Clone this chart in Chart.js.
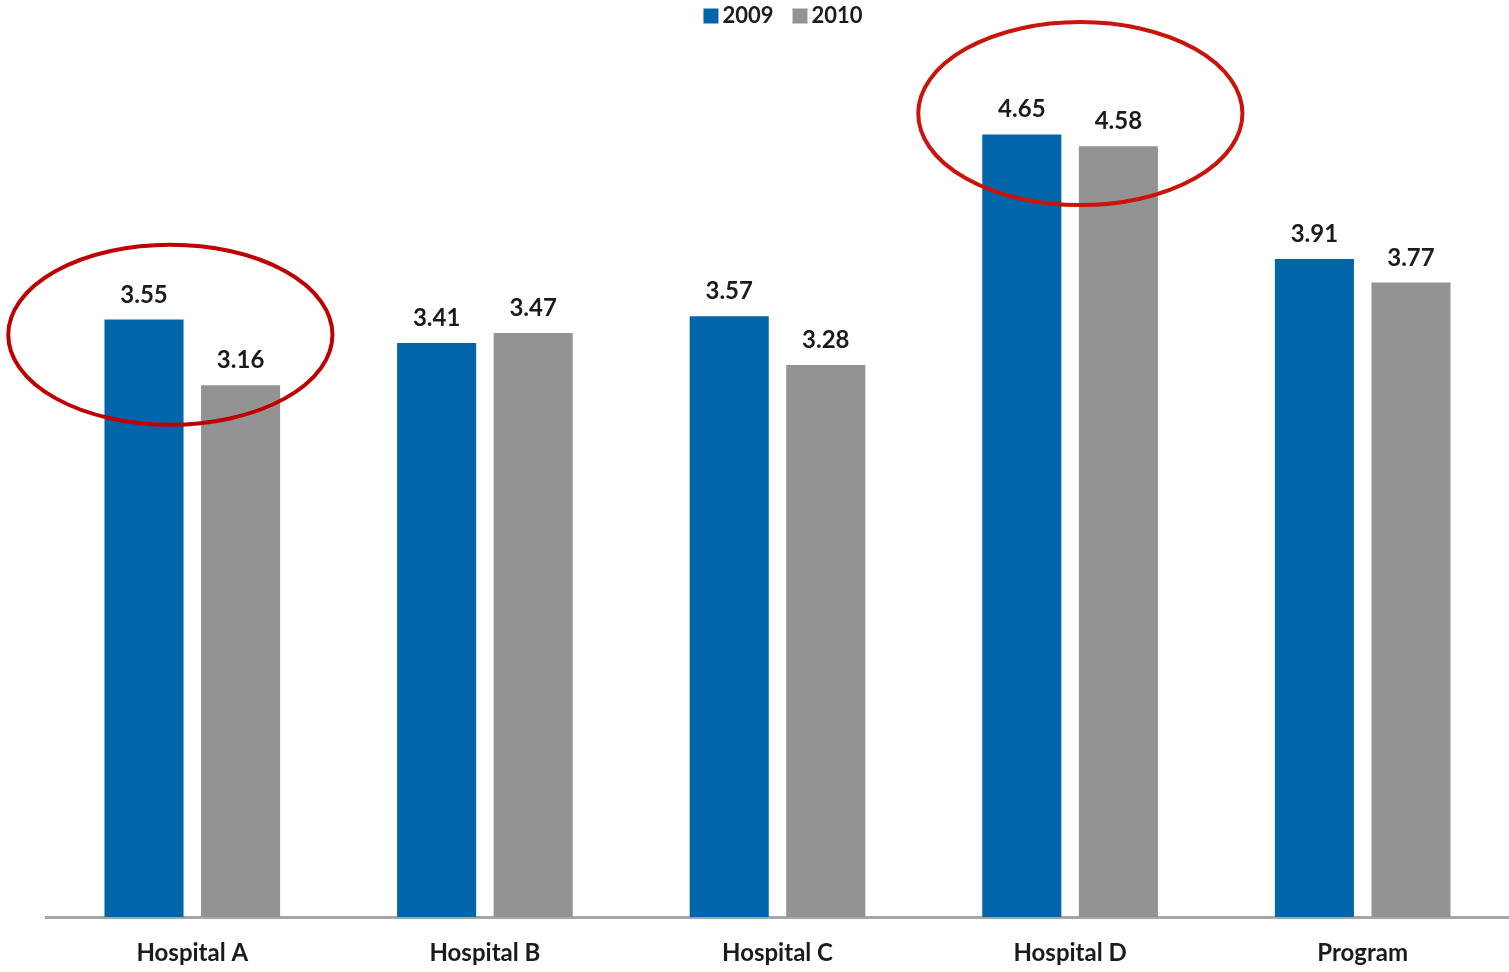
<!DOCTYPE html>
<html>
<head>
<meta charset="utf-8">
<script src="https://cdn.jsdelivr.net/npm/chart.js@4/dist/chart.umd.min.js"></script>
<style>
  html, body { margin: 0; padding: 0; background: #ffffff; overflow: hidden; }
  canvas { display: block; }
</style>
</head>
<body>
<canvas id="chart" width="1509" height="972"></canvas>
<script>
// Scores per site, two survey years
const categories = ['Hospital A', 'Hospital B', 'Hospital C', 'Hospital D', 'Program'];
const seriesNames = ['2009', '2010'];
const values2009 = [3.55, 3.41, 3.57, 4.65, 3.91];
const values2010 = [3.16, 3.47, 3.28, 4.58, 3.77];
const highlighted = ['Hospital A', 'Hospital D'];

const FONT = 'Lato, "Open Sans", sans-serif';
const TEXT = '#1b1b1b';

// Numbers printed above every bar
const barValueLabels = {
  id: 'barValueLabels',
  afterDatasetsDraw(chart) {
    const ctx = chart.ctx;
    ctx.save();
    ctx.font = 'bold 24px ' + FONT;
    ctx.fillStyle = TEXT;
    ctx.textAlign = 'center';
    ctx.textBaseline = 'alphabetic';
    chart.data.datasets.forEach((ds, di) => {
      const meta = chart.getDatasetMeta(di);
      meta.data.forEach((bar, i) => {
        ctx.fillText(ds.data[i].toFixed(2), bar.x, bar.y - 17);
      });
    });
    ctx.restore();
  }
};

// Hand-drawn style ovals around the sites that are called out
const calloutOvals = {
  id: 'calloutOvals',
  afterDatasetsDraw(chart, args, opts) {
    const xs = chart.scales.x, ys = chart.scales.y;
    const band = xs.width / categories.length;
    const ctx = chart.ctx;
    ctx.save();
    opts.shapes.forEach(s => {
      const idx = categories.indexOf(s.category);
      if (idx < 0 || !highlighted.includes(s.category)) return;
      const cx = xs.getPixelForValue(idx) + s.shift * band;
      const cy = ys.getPixelForValue(s.center);
      const rx = s.halfWidth * band;
      const ry = ys.getPixelForValue(0) - ys.getPixelForValue(s.halfHeight);
      ctx.beginPath();
      ctx.ellipse(cx, cy, rx, ry, 0, 0, Math.PI * 2);
      ctx.strokeStyle = s.color;
      ctx.lineWidth = 4;
      ctx.stroke();
    });
    ctx.restore();
  }
};

new Chart(document.getElementById('chart'), {
  type: 'bar',
  data: {
    labels: categories,
    datasets: [
      { label: seriesNames[0], data: values2009, backgroundColor: '#0066a9', borderWidth: 0 },
      { label: seriesNames[1], data: values2010, backgroundColor: '#939393', borderWidth: 0 }
    ]
  },
  options: {
    responsive: false,
    animation: false,
    categoryPercentage: 0.66,
    barPercentage: 0.819,
    layout: { padding: { left: 46, right: -18, top: -21, bottom: 0 } },
    plugins: {
      tooltip: { enabled: false },
      legend: {
        position: 'top',
        align: 'center',
        labels: {
          usePointStyle: true,
          pointStyle: 'rect',
          boxWidth: 1,
          boxHeight: 15,
          padding: 26,
          color: TEXT,
          font: { family: FONT, size: 22, weight: 'bold' }
        }
      },
      calloutOvals: {
        shapes: [
          { category: 'Hospital A', shift: -0.075, center: 3.46, halfWidth: 0.554, halfHeight: 0.535, color: '#bf0000' },
          { category: 'Hospital D', shift: 0.035, center: 4.774, halfWidth: 0.554, halfHeight: 0.544, color: '#c8140a' }
        ]
      }
    },
    scales: {
      x: {
        grid: { display: false, drawTicks: false },
        border: { display: true, color: '#a6a6a6', width: 3 },
        ticks: {
          padding: 22,
          color: TEXT,
          font: { family: FONT, size: 24, weight: 'bold' }
        },
        afterFit(scale) { scale.height = 55; }
      },
      y: {
        position: 'right',
        min: 0,
        max: 5.229,
        grid: { display: false, drawTicks: false },
        border: { display: false },
        ticks: { display: false },
        afterFit(scale) { scale.width = 15; }
      }
    }
  },
  plugins: [barValueLabels, calloutOvals]
});
</script>
</body>
</html>
